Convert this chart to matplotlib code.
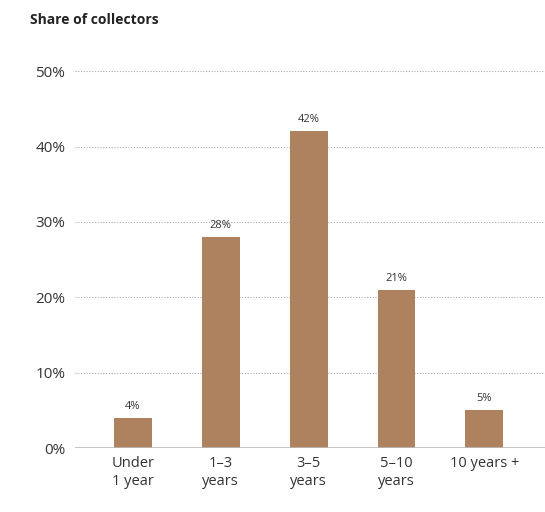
import matplotlib
matplotlib.use("Agg")
import matplotlib.pyplot as plt

categories = ["Under\n1 year", "1–3\nyears", "3–5\nyears", "5–10\nyears", "10 years +"]
values = [4, 28, 42, 21, 5]
yticks = [0, 10, 20, 30, 40, 50]
ytick_labels = ["0%", "10%", "20%", "30%", "40%", "50%"]

plt.rcParams['font.family'] = ['Open Sans', 'DejaVu Sans']

fig = plt.figure(figsize=(5.45, 5.12), dpi=100)
ax = fig.add_axes([0.1376, 0.125, 0.8624, 0.736])

x = list(range(len(categories)))
bars = ax.bar(x, values, width=0.43, color="#ae825e", zorder=3)
for xi, v in zip(x, values):
    ax.text(xi, v + 0.8, f"{v}%", ha="center", va="bottom", fontsize=8, color="#333333")

ax.set_xlim(-0.66, 4.69)
ax.set_ylim(0, 50)
ax.set_yticks(yticks)
ax.set_yticklabels(ytick_labels, fontsize=11, color="#333333")
ax.set_xticks(x)
ax.set_xticklabels(categories, fontsize=10.5, color="#333333", linespacing=1.25)
ax.tick_params(axis="both", length=0, pad=7)
ax.tick_params(axis="x", pad=6)

for yt in yticks[1:]:
    ax.axhline(yt, color="#aaaaaa", linewidth=0.8, linestyle=(0, (1, 1.5)), zorder=1)
ax.axhline(0, color="#bbbbbb", linewidth=1.2, zorder=4)

for s in ax.spines.values():
    s.set_visible(False)

fig.text(30/545, 1 - 20/512, "Share of collectors", fontsize=10, fontweight="bold",
         color="#222222", ha="left", va="center")

fig.savefig("out.png", dpi=100)
